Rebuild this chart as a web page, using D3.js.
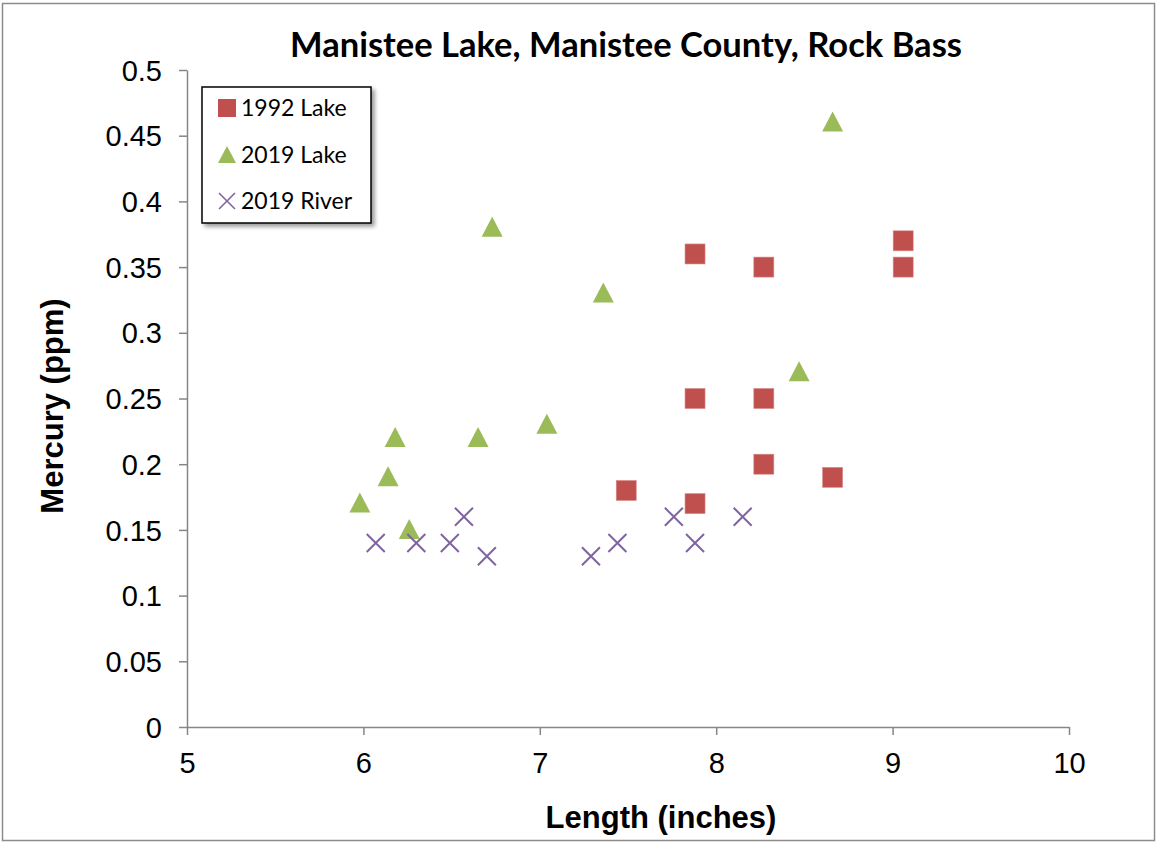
<!DOCTYPE html>
<html><head><meta charset="utf-8">
<script src="https://cdn.jsdelivr.net/npm/d3@7/dist/d3.min.js"></script>
<style>
html,body{margin:0;padding:0;background:#fff;}
svg{display:block;}
</style></head>
<body>
<script>
const title = "Manistee Lake, Manistee County, Rock Bass";
const xTitle = "Length (inches)";
const yTitle = "Mercury (ppm)";
const xTicks = [5, 6, 7, 8, 9, 10];
const yTicks = [0, 0.05, 0.1, 0.15, 0.2, 0.25, 0.3, 0.35, 0.4, 0.45, 0.5];

const lake1992X = [7.88, 8.27, 9.06, 9.06, 7.88, 8.27, 8.27, 8.66, 7.49, 7.88];
const lake1992Y = [0.36, 0.35, 0.37, 0.35, 0.25, 0.25, 0.20, 0.19, 0.18, 0.17];

const lake2019X = [8.66, 6.73, 7.36, 8.47, 7.04, 6.18, 6.65, 6.14, 5.98, 6.26];
const lake2019Y = [0.46, 0.38, 0.33, 0.27, 0.23, 0.22, 0.22, 0.19, 0.17, 0.15];

const river2019X = [6.07, 6.30, 6.49, 6.57, 6.70, 7.29, 7.44, 7.76, 7.88, 8.15];
const river2019Y = [0.14, 0.14, 0.14, 0.16, 0.13, 0.13, 0.14, 0.16, 0.14, 0.16];

const seriesNames = ["1992 Lake", "2019 Lake", "2019 River"];
const colors = ["#C0504D", "#9BBB59", "#8064A2"];

const W = 1156, H = 842;
const svg = d3.select("body").append("svg").attr("width", W).attr("height", H);

svg.append("rect").attr("x", 2.5).attr("y", 3.5).attr("width", W - 4).attr("height", H - 5)
  .attr("fill", "#fff").attr("stroke", "#8c8c8c").attr("stroke-width", 1.5);

const x = d3.scaleLinear().domain([5, 10]).range([187, 1069]);
const y = d3.scaleLinear().domain([0, 0.5]).range([727, 70]);

const axisColor = "#868686";
const tickFont = "Liberation Sans, Arial, sans-serif";

const gx = svg.append("g").attr("transform", `translate(0,${y(0)})`)
  .call(d3.axisBottom(x).tickValues(xTicks).tickFormat(d3.format("d")).tickSizeInner(8).tickSizeOuter(0).tickPadding(17));
const gy = svg.append("g").attr("transform", `translate(${x(5)},0)`)
  .call(d3.axisLeft(y).tickValues(yTicks).tickFormat(d => String(+d.toFixed(2))).tickSizeInner(8).tickSizeOuter(0).tickPadding(17));
[gx, gy].forEach(g => {
  g.select(".domain").attr("stroke", axisColor).attr("stroke-width", 1.5);
  g.selectAll(".tick line").attr("stroke", axisColor).attr("stroke-width", 1.5);
  g.selectAll(".tick text").attr("fill", "#000").style("font-family", tickFont).style("font-size", "29px");
});
gy.selectAll(".tick text").attr("dy", "0.35em");

// Title
svg.append("text").attr("x", 626).attr("y", 57).attr("text-anchor", "middle")
  .style("font-family", "Lato, Open Sans, sans-serif").style("font-weight", "bold").style("font-size", "35px")
  .attr("textLength", 672).attr("lengthAdjust", "spacingAndGlyphs").text(title);

svg.append("text").attr("x", 661).attr("y", 828).attr("text-anchor", "middle")
  .style("font-family", tickFont).style("font-weight", "bold").style("font-size", "31px").text(xTitle);
svg.append("text").attr("transform", "translate(63,406) rotate(-90)").attr("text-anchor", "middle")
  .style("font-family", tickFont).style("font-weight", "bold").style("font-size", "31px").text(yTitle);

function drawMarker(g, kind, cx, cy, color) {
  if (kind === 0) {
    g.append("rect").attr("x", cx - 10).attr("y", cy - 10).attr("width", 20).attr("height", 20)
      .attr("fill", color).attr("stroke", "#d98a88").attr("stroke-width", 0.6);
  } else if (kind === 1) {
    g.append("path").attr("d", `M${cx},${cy - 11}L${cx + 10.5},${cy + 9}L${cx - 10.5},${cy + 9}Z`)
      .attr("fill", color);
  } else {
    g.append("path").attr("d", `M${cx - 9},${cy - 9}L${cx + 9},${cy + 9}M${cx - 9},${cy + 9}L${cx + 9},${cy - 9}`)
      .attr("stroke", color).attr("stroke-width", 2).attr("fill", "none");
  }
}

const seriesX = [lake1992X, lake2019X, river2019X];
const seriesY = [lake1992Y, lake2019Y, river2019Y];
const pts = svg.append("g");
seriesX.forEach((xs, s) => {
  xs.forEach((v, i) => drawMarker(pts, s, x(v), y(seriesY[s][i]), colors[s]));
});

// Legend
const defs = svg.append("defs");
const f = defs.append("filter").attr("id", "sh").attr("x", "-10%").attr("y", "-10%").attr("width", "130%").attr("height", "130%");
f.append("feGaussianBlur").attr("in", "SourceAlpha").attr("stdDeviation", 2);
f.append("feOffset").attr("dx", 3).attr("dy", 3).attr("result", "o");
f.append("feComponentTransfer").append("feFuncA").attr("type", "linear").attr("slope", 0.4);
const m = f.append("feMerge"); m.append("feMergeNode"); m.append("feMergeNode").attr("in", "SourceGraphic");

const lg = svg.append("g");
lg.append("rect").attr("x", 202).attr("y", 87).attr("width", 169).attr("height", 136)
  .attr("fill", "#fff").attr("stroke", "#000").attr("stroke-width", 1.5).attr("filter", "url(#sh)");
const legY = [108, 155, 201];
seriesNames.forEach((n, i) => {
  const gi = lg.append("g");
  if (i === 0) {
    gi.append("rect").attr("x", 218).attr("y", legY[i] - 9).attr("width", 18).attr("height", 18).attr("fill", colors[0]);
  } else if (i === 1) {
    gi.append("path").attr("d", `M227,${legY[i] - 9}L236,${legY[i] + 8}L218,${legY[i] + 8}Z`).attr("fill", colors[1]);
  } else {
    gi.append("path").attr("d", `M219,${legY[i] - 8}L235,${legY[i] + 8}M219,${legY[i] + 8}L235,${legY[i] - 8}`)
      .attr("stroke", colors[2]).attr("stroke-width", 1.6);
  }
  gi.append("text").attr("x", 241).attr("y", legY[i] + 8)
    .style("font-family", "Lato, Open Sans, sans-serif").style("font-size", "23px").text(n);
});
</script>
</body></html>
